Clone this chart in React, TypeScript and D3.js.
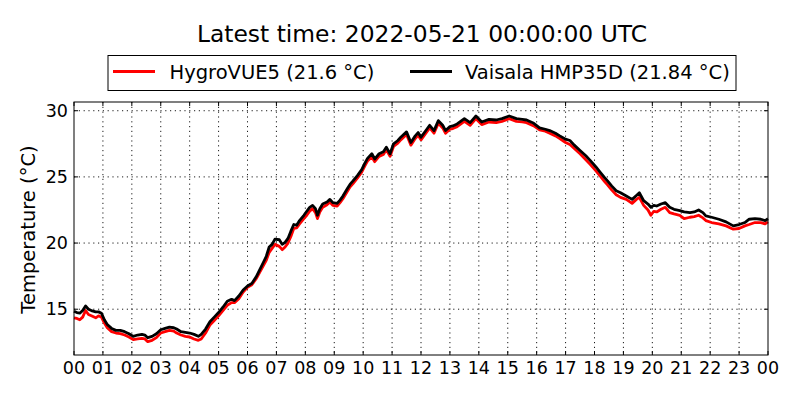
import * as d3 from "d3";

// hours since 2022-05-20 00:00 UTC
const hours = [
  0.0, 0.1, 0.2, 0.3, 0.4, 0.5, 0.6, 0.75, 0.85, 0.95,
  1.05, 1.15, 1.3, 1.45, 1.6, 1.75, 1.9, 2.05, 2.2, 2.35,
  2.45, 2.55, 2.7, 2.85, 3.0, 3.15, 3.3, 3.45, 3.55, 3.7,
  3.85, 4.0, 4.15, 4.3, 4.4, 4.55, 4.7, 4.85, 5.0, 5.15,
  5.3, 5.45, 5.55, 5.7, 5.85, 6.0, 6.15, 6.3, 6.45, 6.55,
  6.65, 6.75, 6.85, 6.95, 7.1, 7.2, 7.3, 7.4, 7.5, 7.6,
  7.7, 7.8, 7.95, 8.05, 8.15, 8.25, 8.35, 8.42, 8.5, 8.6,
  8.75, 8.85, 8.95, 9.1, 9.2, 9.3, 9.45, 9.55, 9.65, 9.8,
  9.95, 10.05, 10.15, 10.3, 10.4, 10.55, 10.7, 10.8, 10.93, 11.05,
  11.2, 11.3, 11.5, 11.65, 11.8, 11.9, 12.0, 12.15, 12.3, 12.45,
  12.6, 12.75, 12.85, 13.0, 13.1, 13.25, 13.5, 13.7, 13.9, 14.1,
  14.35, 14.6, 14.8, 15.05, 15.3, 15.5, 15.65, 15.9, 16.1, 16.3,
  16.45, 16.65, 16.8, 17.0, 17.15, 17.3, 17.5, 17.7, 17.85, 18.05,
  18.2, 18.35, 18.45, 18.6, 18.75, 18.9, 19.1, 19.3, 19.45, 19.55,
  19.7, 19.85, 19.95, 20.05, 20.15, 20.3, 20.45, 20.6, 20.75, 20.95,
  21.1, 21.3, 21.45, 21.6, 21.75, 21.85, 22.05, 22.3, 22.55, 22.8,
  23.0, 23.2, 23.35, 23.55, 23.75, 23.9, 24.0,
];

const vaisala = [
  14.85, 14.75, 14.7, 14.9, 15.25, 15.0, 14.9, 14.8, 14.8, 14.7,
  14.2, 13.85, 13.55, 13.4, 13.4, 13.3, 13.15, 12.95, 13.05, 13.1,
  13.05, 12.85, 12.95, 13.15, 13.45, 13.55, 13.65, 13.6, 13.5, 13.3,
  13.25, 13.2, 13.1, 12.95, 13.1, 13.5, 14.05, 14.4, 14.75, 15.15,
  15.6, 15.75, 15.65, 16.0, 16.45, 16.75, 16.95, 17.45, 18.1, 18.55,
  19.0, 19.7, 19.9, 20.3, 20.25, 19.9, 20.05, 20.35, 20.9, 21.4,
  21.35, 21.7, 22.1, 22.4, 22.7, 22.85, 22.6, 22.1, 22.6, 22.95,
  23.1, 23.3, 23.05, 23.0, 23.25, 23.55, 24.1, 24.45, 24.7, 25.1,
  25.55, 26.0, 26.4, 26.75, 26.35, 26.75, 26.9, 27.25, 26.75, 27.5,
  27.75, 28.0, 28.4, 27.6, 28.1, 28.35, 28.0, 28.45, 28.9, 28.5,
  29.25, 28.9, 28.5, 28.8, 28.85, 29.0, 29.4, 29.1, 29.6, 29.15,
  29.35, 29.3, 29.4, 29.6, 29.4, 29.35, 29.3, 29.05, 28.7, 28.6,
  28.5, 28.3, 28.1, 27.85, 27.75, 27.4, 27.0, 26.6, 26.25, 25.75,
  25.35, 24.95, 24.7, 24.3, 23.95, 23.8, 23.55, 23.3, 23.6, 23.8,
  23.2, 22.95, 22.7, 22.85, 22.8, 22.95, 23.05, 22.7, 22.55, 22.45,
  22.35, 22.3, 22.35, 22.5, 22.3, 22.05, 21.95, 21.8, 21.6, 21.3,
  21.4, 21.55, 21.8, 21.85, 21.8, 21.7, 21.84,
];

const hygroVue = [
  14.35, 14.3, 14.2, 14.4, 14.9, 14.6, 14.5, 14.35, 14.5, 14.4,
  13.95, 13.6, 13.3, 13.2, 13.15, 13.05, 12.9, 12.7, 12.75, 12.8,
  12.75, 12.55, 12.65, 12.85, 13.2, 13.3, 13.4, 13.35, 13.2, 13.05,
  12.95, 12.9, 12.75, 12.65, 12.75, 13.2, 13.8, 14.15, 14.5, 14.9,
  15.3, 15.5, 15.5, 15.8, 16.3, 16.65, 16.85, 17.3, 17.9, 18.3,
  18.7, 19.3, 19.6, 19.9, 19.75, 19.5, 19.7, 20.0, 20.5, 21.1,
  21.15, 21.45, 21.85, 22.1, 22.4, 22.6, 22.3, 21.85, 22.35, 22.7,
  22.9, 23.1, 22.85, 22.8, 23.05, 23.35, 23.9, 24.25, 24.5, 24.9,
  25.35, 25.8, 26.2, 26.5, 26.15, 26.55, 26.7, 27.05, 26.55, 27.3,
  27.55, 27.8, 28.2, 27.4, 27.9, 28.15, 27.8, 28.25, 28.7, 28.3,
  29.05, 28.7, 28.3, 28.6, 28.65, 28.8, 29.2, 28.9, 29.4, 28.95,
  29.15, 29.1, 29.2, 29.4, 29.2, 29.15, 29.1, 28.85, 28.55, 28.45,
  28.3, 28.1, 27.9, 27.6, 27.45, 27.15, 26.75, 26.3, 25.95, 25.45,
  25.05, 24.65, 24.4, 24.0, 23.65, 23.45, 23.3, 23.0, 23.3, 23.45,
  22.85, 22.5, 22.1, 22.4, 22.35, 22.55, 22.7, 22.3, 22.2, 22.1,
  21.85, 21.95, 22.0, 22.1, 21.9, 21.7, 21.55, 21.45, 21.3, 21.05,
  21.1, 21.3, 21.4, 21.55, 21.55, 21.45, 21.6,
];

const xTickHours = d3.range(0, 25);
const yTickValues = [15, 20, 25, 30];

const title = "Latest time: 2022-05-21 00:00:00 UTC";
const seriesLabels = ["HygroVUE5 (21.6 °C)", "Vaisala HMP35D (21.84 °C)"];
const yLabel = "Temperature (°C)";

const W = 800;
const H = 400;
const M = { left: 74, right: 768, top: 102, bottom: 355 };
const FONT = "DejaVu Sans, sans-serif";

export default function App() {
  const x = d3.scaleLinear().domain([0, 24]).range([M.left, M.right]);
  const y = d3.scaleLinear().domain([11.54, 30.66]).range([M.bottom, M.top]);

  const line = (vals: number[]) =>
    d3
      .line<number>()
      .x((_, i) => x(hours[i]))
      .y((d) => y(d))(vals) ?? "";

  const fmtHour = (h: number) => d3.format("02d")(h % 24);

  return (
    <svg
      width={W}
      height={H}
      style={{ position: "absolute", left: 0, top: 0, background: "white" }}
      fontFamily={FONT}
    >
      <rect x={0} y={0} width={W} height={H} fill="white" />

      {/* grid */}
      <g stroke="black" strokeWidth={0.9} strokeDasharray="1.2,3.6">
        {xTickHours.slice(1, -1).map((h) => (
          <line key={"gx" + h} x1={x(h)} x2={x(h)} y1={M.top} y2={M.bottom} />
        ))}
        {yTickValues.map((v) => (
          <line key={"gy" + v} x1={M.left} x2={M.right} y1={y(v)} y2={y(v)} />
        ))}
      </g>

      {/* series */}
      <path d={line(hygroVue)} fill="none" stroke="#ff0000" strokeWidth={2.8} strokeLinejoin="round" />
      <path d={line(vaisala)} fill="none" stroke="black" strokeWidth={2.8} strokeLinejoin="round" />

      {/* frame and inward ticks */}
      <rect
        x={M.left}
        y={M.top}
        width={M.right - M.left}
        height={M.bottom - M.top}
        fill="none"
        stroke="black"
        strokeWidth={1}
      />
      <g stroke="black" strokeWidth={1}>
        {xTickHours.map((h) => (
          <g key={"tx" + h}>
            <line x1={x(h)} x2={x(h)} y1={M.bottom} y2={M.bottom - 4} />
            <line x1={x(h)} x2={x(h)} y1={M.top} y2={M.top + 4} />
          </g>
        ))}
        {yTickValues.map((v) => (
          <g key={"ty" + v}>
            <line x1={M.left} x2={M.left + 4} y1={y(v)} y2={y(v)} />
            <line x1={M.right} x2={M.right - 4} y1={y(v)} y2={y(v)} />
          </g>
        ))}
      </g>

      {/* tick labels */}
      <g fontSize={17.5} fill="black">
        {xTickHours.map((h) => (
          <text key={"lx" + h} x={x(h)} y={M.bottom + 19} textAnchor="middle">
            {fmtHour(h)}
          </text>
        ))}
        {yTickValues.map((v) => (
          <text key={"ly" + v} x={M.left - 6} y={y(v) + 6} textAnchor="end">
            {v}
          </text>
        ))}
      </g>

      <text
        transform={`translate(35,${(M.top + M.bottom) / 2 + 1}) rotate(-90)`}
        textAnchor="middle"
        fontSize={19.5}
      >
        {yLabel}
      </text>

      {/* title */}
      <text x={(M.left + M.right) / 2 + 1} y={42} textAnchor="middle" fontSize={23.4}>
        {title}
      </text>

      {/* legend */}
      <rect x={108} y={55.5} width={628} height={35} fill="white" stroke="black" strokeWidth={1} />
      <line x1={113} x2={155} y1={71.5} y2={71.5} stroke="#ff0000" strokeWidth={3} />
      <text x={169.5} y={78.5} fontSize={19.5}>
        {seriesLabels[0]}
      </text>
      <line x1={410} x2={452} y1={71.5} y2={71.5} stroke="black" strokeWidth={3} />
      <text x={465} y={78.5} fontSize={19.5}>
        {seriesLabels[1]}
      </text>
    </svg>
  );
}
